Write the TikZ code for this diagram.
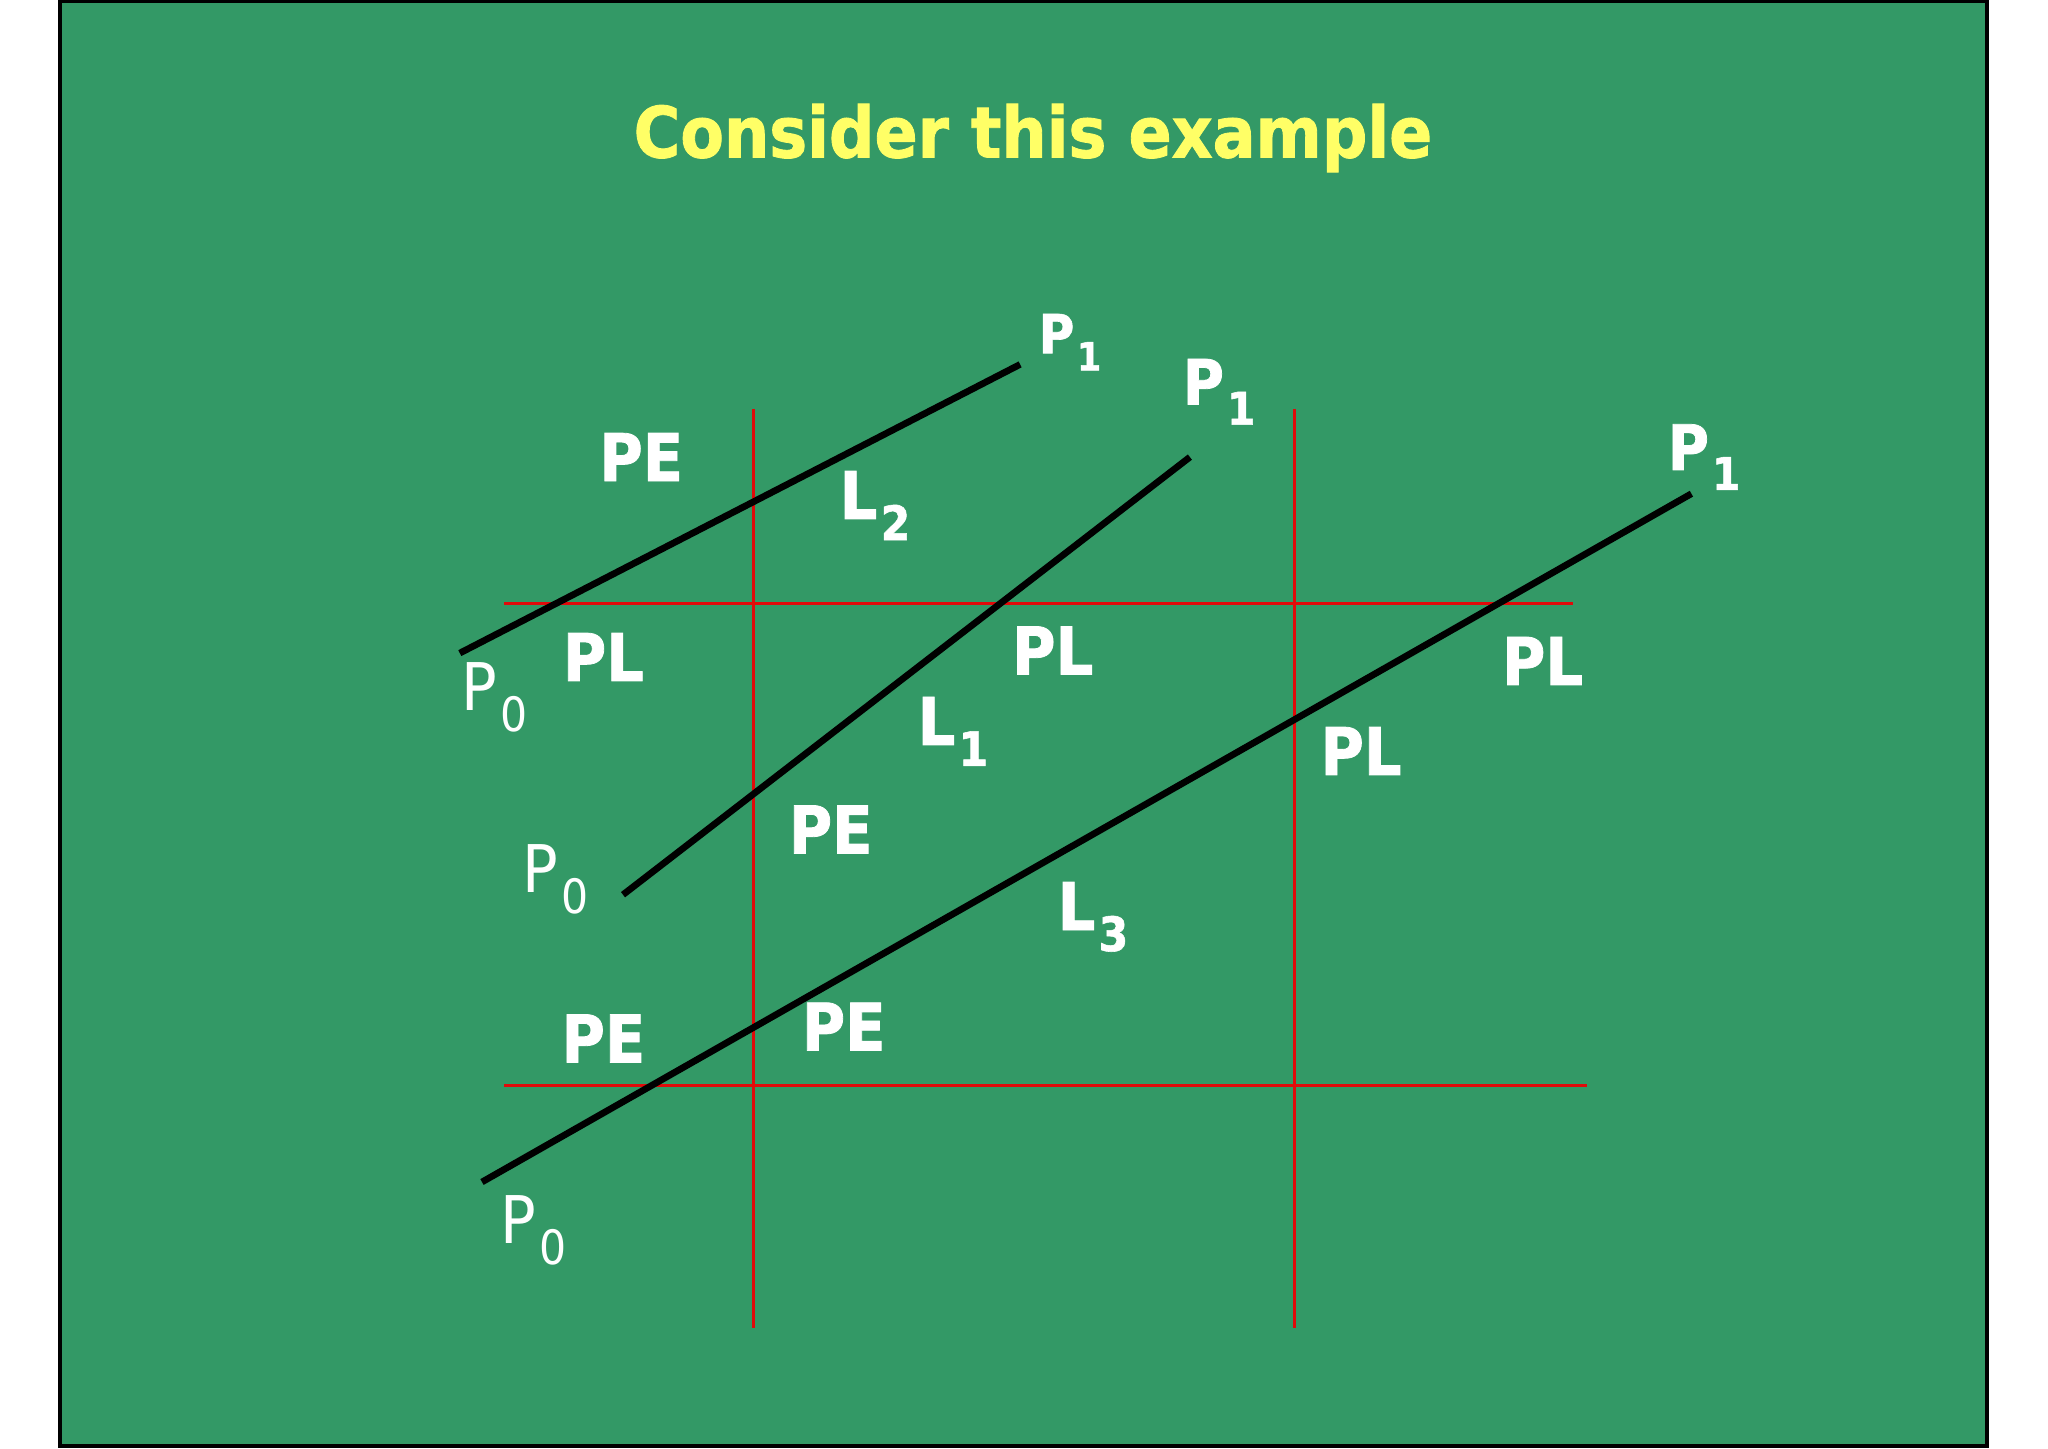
\documentclass[tikz,border=0pt]{standalone}
\usepackage{fontspec}
\setmainfont{DejaVu Sans Condensed}[BoldFeatures={FakeBold=1.2}]
\usetikzlibrary{calc}
\definecolor{Slide}{RGB}{51,153,102}
\definecolor{Headline}{RGB}{255,255,102}
\definecolor{Grid}{RGB}{225,10,10}
\newcommand{\idx}[1]{\hspace{0.05em}\raisebox{-0.32em}{\scalebox{0.72}{#1}}}

\begin{document}
\begin{tikzpicture}[x=0.01cm, y=-0.01cm,
    lbl/.style = {text=white, inner sep=0pt, font=\bfseries\fontsize{18.7}{22}\selectfont},
    ptlbl/.style = {text=white, inner sep=0pt, font=\fontsize{18.7}{22}\selectfont},
    seg/.style = {line width=1.9pt, black},
    gridline/.style = {line width=0.75pt, Grid}]
    \useasboundingbox (0,0) rectangle (2048,1448);
    \draw[line width=0.9pt, fill = Slide] (60,1) rectangle (1987,1446);
    \node[text=Headline, inner sep=0pt, font=\bfseries\fontsize{20.1}{24}\selectfont] (title) at (1033,138) {Consider this example};

    \foreach \x/\n in {753.6/v1,1294.3/v2}
    {
    \coordinate (\n top) at (\x,408.8);
    \coordinate (\n bot) at (\x,1328.3);
    \draw[gridline] (\n top) to (\n bot);
    }
    \coordinate (h1l) at (504.2,603.4);
    \coordinate (h1r) at (1572.5,603.4);
    \coordinate (h2l) at (504.2,1085.4);
    \coordinate (h2r) at (1587,1085.4);
    \draw[gridline] (h1l) to (h1r);
    \draw[gridline] (h2l) to (h2r);

    \coordinate (a0) at (459.8,653.1);
    \coordinate (a1) at (1020.1,364.4);
    \coordinate (b0) at (623,894.7);
    \coordinate (b1) at (1189.9,457.1);
    \coordinate (c0) at (482,1182);
    \coordinate (c1) at (1691.4,493.7);
    \draw[seg] (a0) to (a1);
    \draw[seg] (b0) to (b1);
    \draw[seg] (c0) to (c1);

    \node[lbl, font=\bfseries\fontsize{15.3}{18}\selectfont] (a1lbl) at (1070,342.2) {P\idx{1}};
    \node[lbl, font=\bfseries\fontsize{17.8}{21}\selectfont] (b1lbl) at (1219,391.8) {P\idx{1}};
    \node[lbl, font=\bfseries\fontsize{17.8}{21}\selectfont] (c1lbl) at (1704,457.1) {P\idx{1}};
    \node[ptlbl] (a0lbl) at (494.5,697) {P\idx{0}};
    \node[ptlbl] (b0lbl) at (556,879) {P\idx{0}};
    \node[ptlbl] (c0lbl) at (534,1230) {P\idx{0}};

    \node[lbl] (l2) at (875,505.5) {L\idx{2}};
    \node[lbl] (l1) at (953,731.4) {L\idx{1}};
    \node[lbl] (l3) at (1093,916.9) {L\idx{3}};

    \node[lbl] (pe1) at (641.3,457.1) {PE};
    \node[lbl] (pe2) at (830.7,829.4) {PE};
    \node[lbl] (pe3) at (603.4,1038.4) {PE};
    \node[lbl] (pe4) at (843.7,1026.6) {PE};
    \node[lbl] (pl1) at (603.4,657) {PL};
    \node[lbl] (pl2) at (1052.7,650.4) {PL};
    \node[lbl] (pl3) at (1542.5,660.9) {PL};
    \node[lbl] (pl4) at (1361,751) {PL};
\end{tikzpicture}
\end{document}
